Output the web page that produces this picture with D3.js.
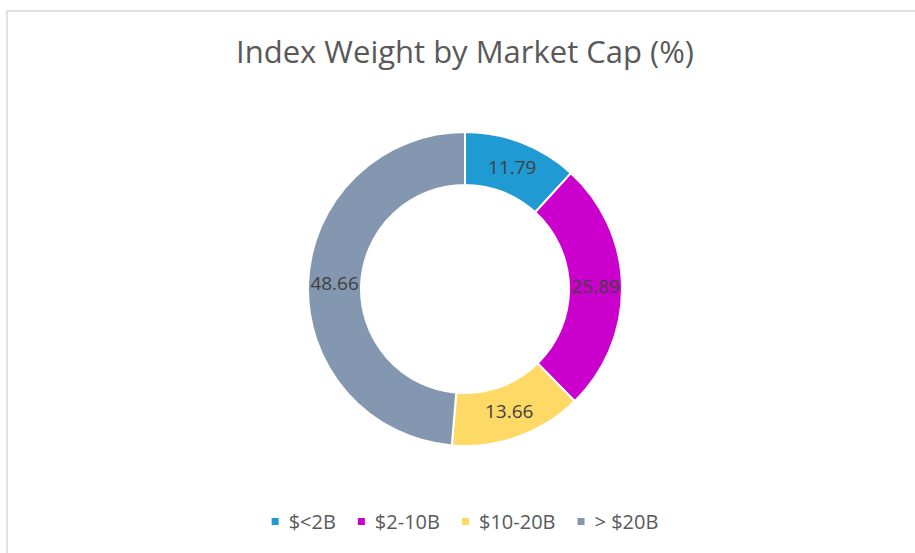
<!DOCTYPE html>
<html>
<head>
<meta charset="utf-8">
<script src="https://cdn.jsdelivr.net/npm/d3@7"></script>
<style>
  body { margin: 0; background: #fff; }
  svg { display: block; }
</style>
</head>
<body>
<svg id="chart" width="915" height="553"></svg>
<script>
const categories = ["$<2B", "$2-10B", "$10-20B", "> $20B"];
const weights = [11.79, 25.89, 13.66, 48.66];
const colors = ["#1F9AD3", "#CC00CC", "#FFD966", "#8497B0"];
const title = "Index Weight by Market Cap (%)";

const svg = d3.select("#chart");
const width = +svg.attr("width");
const height = +svg.attr("height");
const center = {x: 465, y: 289};
const outerRadius = 157;
const innerRadius = 104;
const font = "'Open Sans', sans-serif";

// chart frame
svg.append("rect")
    .attr("x", 7)
    .attr("y", 11)
    .attr("width", width)
    .attr("height", height)
    .attr("fill", "#fff")
    .attr("stroke", "#d9d9d9")
    .attr("stroke-width", 1.5);

svg.append("text")
    .attr("x", center.x)
    .attr("y", 63)
    .attr("text-anchor", "middle")
    .style("font-family", font)
    .style("font-size", "31px")
    .attr("fill", "#595959")
    .text(title);

const data = categories.map((c, i) => ({name: c, value: weights[i], color: colors[i]}));

const pie = d3.pie()
    .value(d => d.value)
    .sort(null);

const arc = d3.arc()
    .innerRadius(innerRadius)
    .outerRadius(outerRadius);

const donut = svg.append("g")
    .attr("transform", "translate(" + center.x + "," + center.y + ")");

const arcs = pie(data);

donut.selectAll("path")
    .data(arcs)
    .enter()
    .append("path")
    .attr("d", arc)
    .attr("fill", d => d.data.color)
    .attr("stroke", "#fff")
    .attr("stroke-width", 2);

donut.selectAll("text")
    .data(arcs)
    .enter()
    .append("text")
    .attr("transform", d => "translate(" + arc.centroid(d) + ")")
    .attr("text-anchor", "middle")
    .attr("dy", "0.35em")
    .style("font-family", font)
    .style("font-size", "19px")
    .attr("fill", "#404040")
    .text(d => d.data.value.toFixed(2));

// legend
const legend = svg.append("g");
let offset = 0;
data.forEach((d) => {
    const item = legend.append("g")
        .attr("transform", "translate(" + offset + ",0)");
    item.append("rect")
        .attr("x", 0)
        .attr("y", -4)
        .attr("width", 7)
        .attr("height", 7)
        .attr("fill", d.color);
    const label = item.append("text")
        .attr("x", 17)
        .attr("y", 0)
        .attr("dy", "0.35em")
        .style("font-family", font)
        .style("font-size", "20px")
        .attr("fill", "#595959")
        .text(d.name);
    offset += 17 + label.node().getComputedTextLength() + 22;
});
const legendWidth = offset - 22;
legend.attr("transform", "translate(" + (center.x - legendWidth / 2) + ",522)");
</script>
</body>
</html>
